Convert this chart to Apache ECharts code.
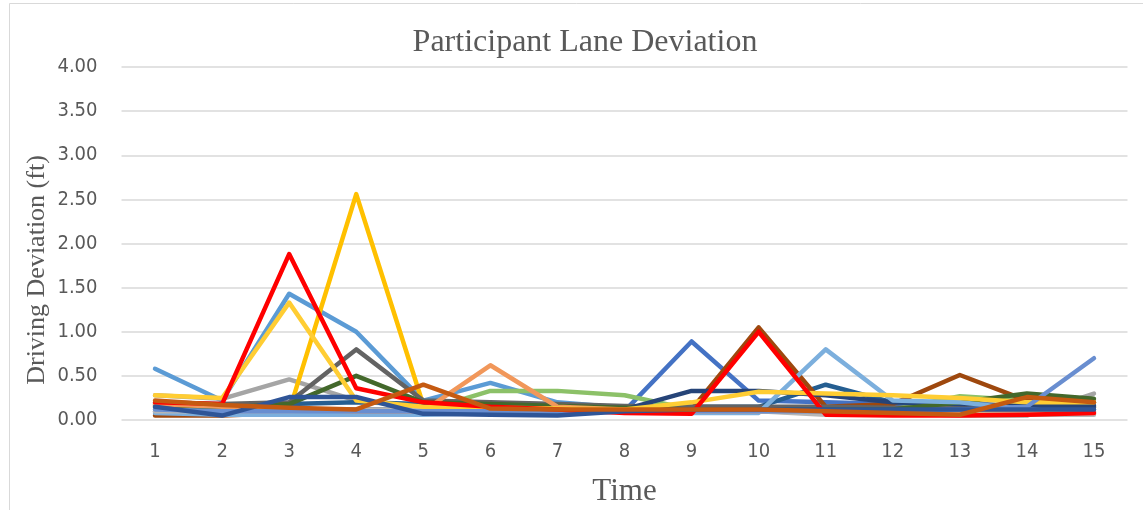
<!DOCTYPE html>
<html><head><meta charset="utf-8">
<script src="https://cdn.jsdelivr.net/npm/echarts@6/dist/echarts.min.js"></script>
<style>html,body{margin:0;padding:0;background:#fff}#c{width:1143px;height:510px}</style>
</head><body><div id="c"></div>
<script>
const categories = ['1','2','3','4','5','6','7','8','9','10','11','12','13','14','15'];
const yTicks = [0, 0.5, 1, 1.5, 2, 2.5, 3, 3.5, 4];

const p01 = [0.58, 0.22, 1.43, 1.00, 0.22, 0.42, 0.20, 0.14, 0.12, 0.12, 0.10, 0.10, 0.10, 0.10, 0.10];
const p02 = [0.28, 0.24, 0.46, 0.22, 0.15, 0.14, 0.13, 0.13, 0.12, 0.10, 0.10, 0.08, 0.05, 0.05, 0.30];
const p03 = [0.15, 0.12, 0.10, 2.56, 0.17, 0.14, 0.13, 0.12, 0.12, 0.12, 0.12, 0.12, 0.12, 0.12, 0.14];
const p04 = [0.14, 0.10, 0.08, 0.08, 0.08, 0.08, 0.08, 0.10, 0.89, 0.22, 0.20, 0.18, 0.16, 0.14, 0.12];
const p05 = [0.12, 0.10, 0.10, 0.10, 0.10, 0.33, 0.33, 0.28, 0.12, 0.12, 0.12, 0.12, 0.27, 0.22, 0.20];
const p06 = [0.18, 0.15, 0.18, 0.20, 0.18, 0.18, 0.16, 0.15, 0.15, 0.15, 0.40, 0.20, 0.18, 0.16, 0.16];
const p07 = [0.05, 0.05, 0.08, 0.10, 0.12, 0.12, 0.12, 0.12, 0.12, 1.05, 0.15, 0.18, 0.51, 0.22, 0.20];
const p08 = [0.20, 0.18, 0.20, 0.80, 0.22, 0.20, 0.18, 0.16, 0.15, 0.15, 0.15, 0.14, 0.14, 0.14, 0.14];
const p09 = [0.10, 0.10, 0.12, 0.12, 0.12, 0.12, 0.12, 0.12, 0.33, 0.33, 0.28, 0.20, 0.18, 0.16, 0.16];
const p10 = [0.16, 0.14, 0.18, 0.50, 0.20, 0.18, 0.16, 0.14, 0.12, 0.12, 0.12, 0.12, 0.20, 0.30, 0.24];
const p11 = [0.08, 0.06, 0.06, 0.06, 0.06, 0.08, 0.10, 0.10, 0.08, 0.08, 0.80, 0.22, 0.20, 0.12, 0.08];
const p12 = [0.18, 0.15, 0.12, 0.10, 0.10, 0.62, 0.15, 0.12, 0.10, 0.10, 0.08, 0.08, 0.08, 0.08, 0.08];
const p13 = [0.10, 0.10, 0.10, 0.12, 0.12, 0.12, 0.12, 0.12, 0.10, 0.10, 0.06, 0.06, 0.06, 0.06, 0.06];
const p14 = [0.28, 0.25, 1.33, 0.22, 0.15, 0.14, 0.13, 0.12, 0.20, 0.32, 0.30, 0.28, 0.25, 0.20, 0.20];
const p15 = [0.12, 0.10, 0.10, 0.10, 0.10, 0.10, 0.10, 0.10, 0.10, 0.10, 0.10, 0.10, 0.12, 0.15, 0.70];
const p16 = [0.20, 0.18, 1.88, 0.36, 0.20, 0.15, 0.12, 0.08, 0.07, 1.00, 0.06, 0.05, 0.05, 0.06, 0.08];
const p17 = [0.15, 0.05, 0.26, 0.26, 0.07, 0.06, 0.05, 0.10, 0.12, 0.12, 0.12, 0.12, 0.12, 0.12, 0.12];
const p18 = [0.22, 0.17, 0.14, 0.12, 0.40, 0.13, 0.12, 0.12, 0.12, 0.12, 0.10, 0.08, 0.06, 0.26, 0.20];

const seriesList = [
  [p01, '#5B9BD5'], [p02, '#A5A5A5'], [p03, '#FFC000'], [p04, '#4472C4'],
  [p05, '#8CC168'], [p06, '#255E91'], [p07, '#9E480E'], [p08, '#636363'],
  [p09, '#264478'], [p10, '#43682B'], [p11, '#7CAFDD'], [p12, '#F1975A'],
  [p13, '#B7B7B7'], [p14, '#FFCD33'], [p15, '#698ED0'], [p16, '#FF0000'],
  [p17, '#2F5597'], [p18, '#C55A11']
];

const chart = echarts.init(document.getElementById('c'));
chart.setOption({
  animation: false,
  backgroundColor: '#fff',
  graphic: [
    {type:'rect', shape:{x:9.5, y:3.5, width:1150, height:520}, style:{fill:'none', stroke:'#d9d9d9', lineWidth:1}, silent:true},
    {type:'text', x:37, y:270, rotation:Math.PI/2, silent:true,
      style:{text:'Driving Deviation (ft)', fill:'#595959', font:'26px "Liberation Serif"', align:'center', verticalAlign:'middle'}}
  ],
  title: {text:'Participant Lane Deviation', left:580, top:22, textAlign:'center',
    textStyle:{fontFamily:'Liberation Serif', fontSize:32, fontWeight:'normal', color:'#595959'}},
  grid: {left:121.5, right:15.5, top:67, bottom:90, outerBoundsMode:'none', containLabel:false},
  xAxis: {type:'category', data:categories, boundaryGap:true,
    axisLine:{show:false}, axisTick:{show:false},
    axisLabel:{margin:22, fontFamily:'DejaVu Sans Condensed', fontSize:20, color:'#595959'},
    name:'Time', nameLocation:'middle', nameGap:56,
    nameTextStyle:{fontFamily:'Liberation Serif', fontSize:31, color:'#595959'}},
  yAxis: {type:'value', min:yTicks[0], max:yTicks[yTicks.length-1], interval:0.5,
    axisLine:{show:false}, axisTick:{show:false},
    splitLine:{lineStyle:{color:'#d9d9d9', width:1.5}},
    axisLabel:{margin:24, fontFamily:'DejaVu Sans Condensed', fontSize:20, color:'#595959',
      formatter: v => v.toFixed(2)}},
  series: seriesList.map(([d, c], i) => ({
    type:'line', name:'P'+(i+1), data:d, symbol:'none', z: 2,
    lineStyle:{color:c, width:4.5, cap:'round', join:'round'}, itemStyle:{color:c}
  }))
});
</script></body></html>
